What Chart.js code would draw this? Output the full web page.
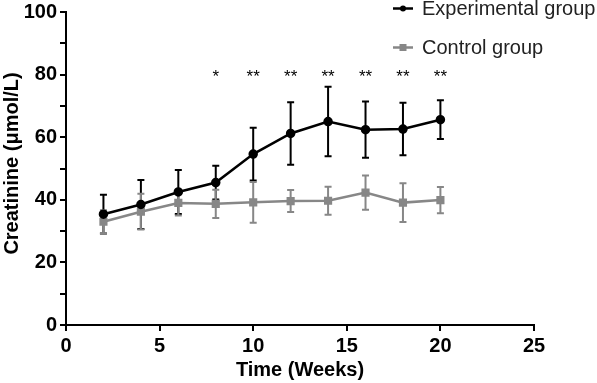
<!DOCTYPE html>
<html>
<head>
<meta charset="utf-8">
<script src="https://cdn.jsdelivr.net/npm/chart.js@4"></script>
<style>
  body { margin: 0; background: #fff; }
  canvas { display: block; }
</style>
</head>
<body>
<canvas id="grafico" width="597" height="383"></canvas>
<script>
// Dados (semanas x creatinina)
const weeks = [2, 4, 6, 8, 10, 12, 14, 16, 18, 20];
const expMean = [35.4, 38.5, 42.5, 45.5, 54.6, 61.2, 65.0, 62.4, 62.6, 65.6];
const expSd = [6.2, 7.8, 7.0, 5.4, 8.4, 10.0, 11.1, 9.0, 8.4, 6.2];
const ctrlMean = [33.0, 36.2, 39.0, 38.7, 39.2, 39.6, 39.7, 42.3, 39.1, 39.9];
const ctrlSd = [3.7, 5.7, 4.0, 4.5, 6.5, 3.5, 4.5, 5.5, 6.2, 4.2];
const stars = ['', '', '', '*', '**', '**', '**', '**', '**', '**'];
const seriesLabels = ['Experimental group', 'Control group'];
const xTicks = [0, 5, 10, 15, 20, 25];
const yTicks = [0, 20, 40, 60, 80, 100];

const fontFamily = 'Arial, "Liberation Sans", sans-serif';
const black = '#000000';
const grey = '#878787';

// Barras de erro (média ± DP)
const errorBars = {
    id: 'errorBars',
    beforeDatasetsDraw(chart) {
        const ctx = chart.ctx;
        const x = chart.scales.x;
        const y = chart.scales.y;
        chart.data.datasets.forEach((ds) => {
            const sd = ds.sd;
            ctx.save();
            ctx.strokeStyle = ds.borderColor;
            ctx.lineWidth = 2;
            ds.data.forEach((p, j) => {
                const px = x.getPixelForValue(p.x);
                const top = y.getPixelForValue(p.y + sd[j]);
                const bot = y.getPixelForValue(p.y - sd[j]);
                ctx.beginPath();
                ctx.moveTo(px, top);
                ctx.lineTo(px, bot);
                ctx.moveTo(px - 3.5, top);
                ctx.lineTo(px + 3.5, top);
                ctx.moveTo(px - 3.5, bot);
                ctx.lineTo(px + 3.5, bot);
                ctx.stroke();
            });
            ctx.restore();
        });
    }
};

// Asteriscos, título do eixo y e legenda
const extras = {
    id: 'extras',
    afterDraw(chart) {
        const ctx = chart.ctx;
        const x = chart.scales.x;
        ctx.save();
        ctx.fillStyle = black;
        ctx.font = '17px ' + fontFamily;
        ctx.textAlign = 'center';
        ctx.textBaseline = 'alphabetic';
        weeks.forEach((w, i) => {
            if (stars[i]) ctx.fillText(stars[i], x.getPixelForValue(w), 82);
        });

        // título do eixo y
        ctx.save();
        ctx.translate(12, 163.5);
        ctx.rotate(-Math.PI / 2);
        ctx.font = 'bold 20px ' + fontFamily;
        ctx.textBaseline = 'middle';
        ctx.fillText('Creatinine (μmol/L)', 0, 0);
        ctx.restore();

        const rows = [
            { y: 8.5, color: black, shape: 'circle' },
            { y: 47.5, color: grey, shape: 'rect' }
        ];
        ctx.font = '20px ' + fontFamily;
        ctx.textAlign = 'left';
        ctx.textBaseline = 'middle';
        rows.forEach((r, i) => {
            ctx.strokeStyle = r.color;
            ctx.fillStyle = r.color;
            ctx.lineWidth = 2.5;
            ctx.beginPath();
            ctx.moveTo(393, r.y);
            ctx.lineTo(413, r.y);
            ctx.stroke();
            ctx.beginPath();
            if (r.shape === 'circle') {
                ctx.arc(403, r.y, 3, 0, Math.PI * 2);
            } else {
                ctx.rect(399.5, r.y - 3.5, 7, 7);
            }
            ctx.fill();
            ctx.fillStyle = '#222';
            ctx.fillText(seriesLabels[i], 422, r.y + 1);
        });
        ctx.restore();
    }
};

const toPoints = (means) => weeks.map((w, i) => ({ x: w, y: means[i] }));

const config = {
    type: 'scatter',
    data: {
        datasets: [
            {
                label: seriesLabels[0],
                data: toPoints(expMean),
                sd: expSd,
                showLine: true,
                borderColor: black,
                backgroundColor: black,
                borderWidth: 2.5,
                pointStyle: 'circle',
                pointRadius: 3.5,
                pointHoverRadius: 3.5
            },
            {
                label: seriesLabels[1],
                data: toPoints(ctrlMean),
                sd: ctrlSd,
                showLine: true,
                borderColor: grey,
                backgroundColor: grey,
                borderWidth: 2.5,
                pointStyle: 'rect',
                pointRadius: 4,
                pointHoverRadius: 4
            }
        ]
    },
    options: {
        responsive: false,
        animation: false,
        layout: { padding: { top: 12, right: 63, left: 0, bottom: 0 } },
        plugins: {
            legend: { display: false },
            tooltip: { enabled: false }
        },
        scales: {
            x: {
                type: 'linear',
                min: 0,
                max: 25,
                afterFit: (s) => { s.height = 58; },
                afterBuildTicks: (s) => { s.ticks = xTicks.map(v => ({ value: v })); },
                border: { color: black, width: 2 },
                grid: { drawOnChartArea: false, color: black, lineWidth: 2, tickLength: 6 },
                ticks: {
                    color: black,
                    padding: 3,
                    font: { family: fontFamily, size: 20, weight: 'bold' }
                },
                title: {
                    display: true,
                    text: 'Time (Weeks)',
                    color: black,
                    padding: { top: 0, bottom: 1 },
                    font: { family: fontFamily, size: 20, weight: 'bold' }
                }
            },
            y: {
                type: 'linear',
                min: 0,
                max: 100,
                afterFit: (s) => {
                    s.width = 66;
                    s.paddingTop = 0;
                    s.paddingBottom = 0;
                },
                afterBuildTicks: (s) => {
                    const t = [];
                    for (let v = 0; v <= 100; v += 10) t.push({ value: v });
                    s.ticks = t;
                },
                border: { color: black, width: 2 },
                grid: { drawOnChartArea: false, color: black, lineWidth: 2, tickLength: 6 },
                ticks: {
                    color: black,
                    padding: 3,
                    autoSkip: false,
                    font: { family: fontFamily, size: 20, weight: 'bold' },
                    callback: (v) => yTicks.includes(v) ? v : ''
                }
            }
        }
    },
    plugins: [errorBars, extras]
};

new Chart(document.getElementById('grafico'), config);
</script>
</body>
</html>
